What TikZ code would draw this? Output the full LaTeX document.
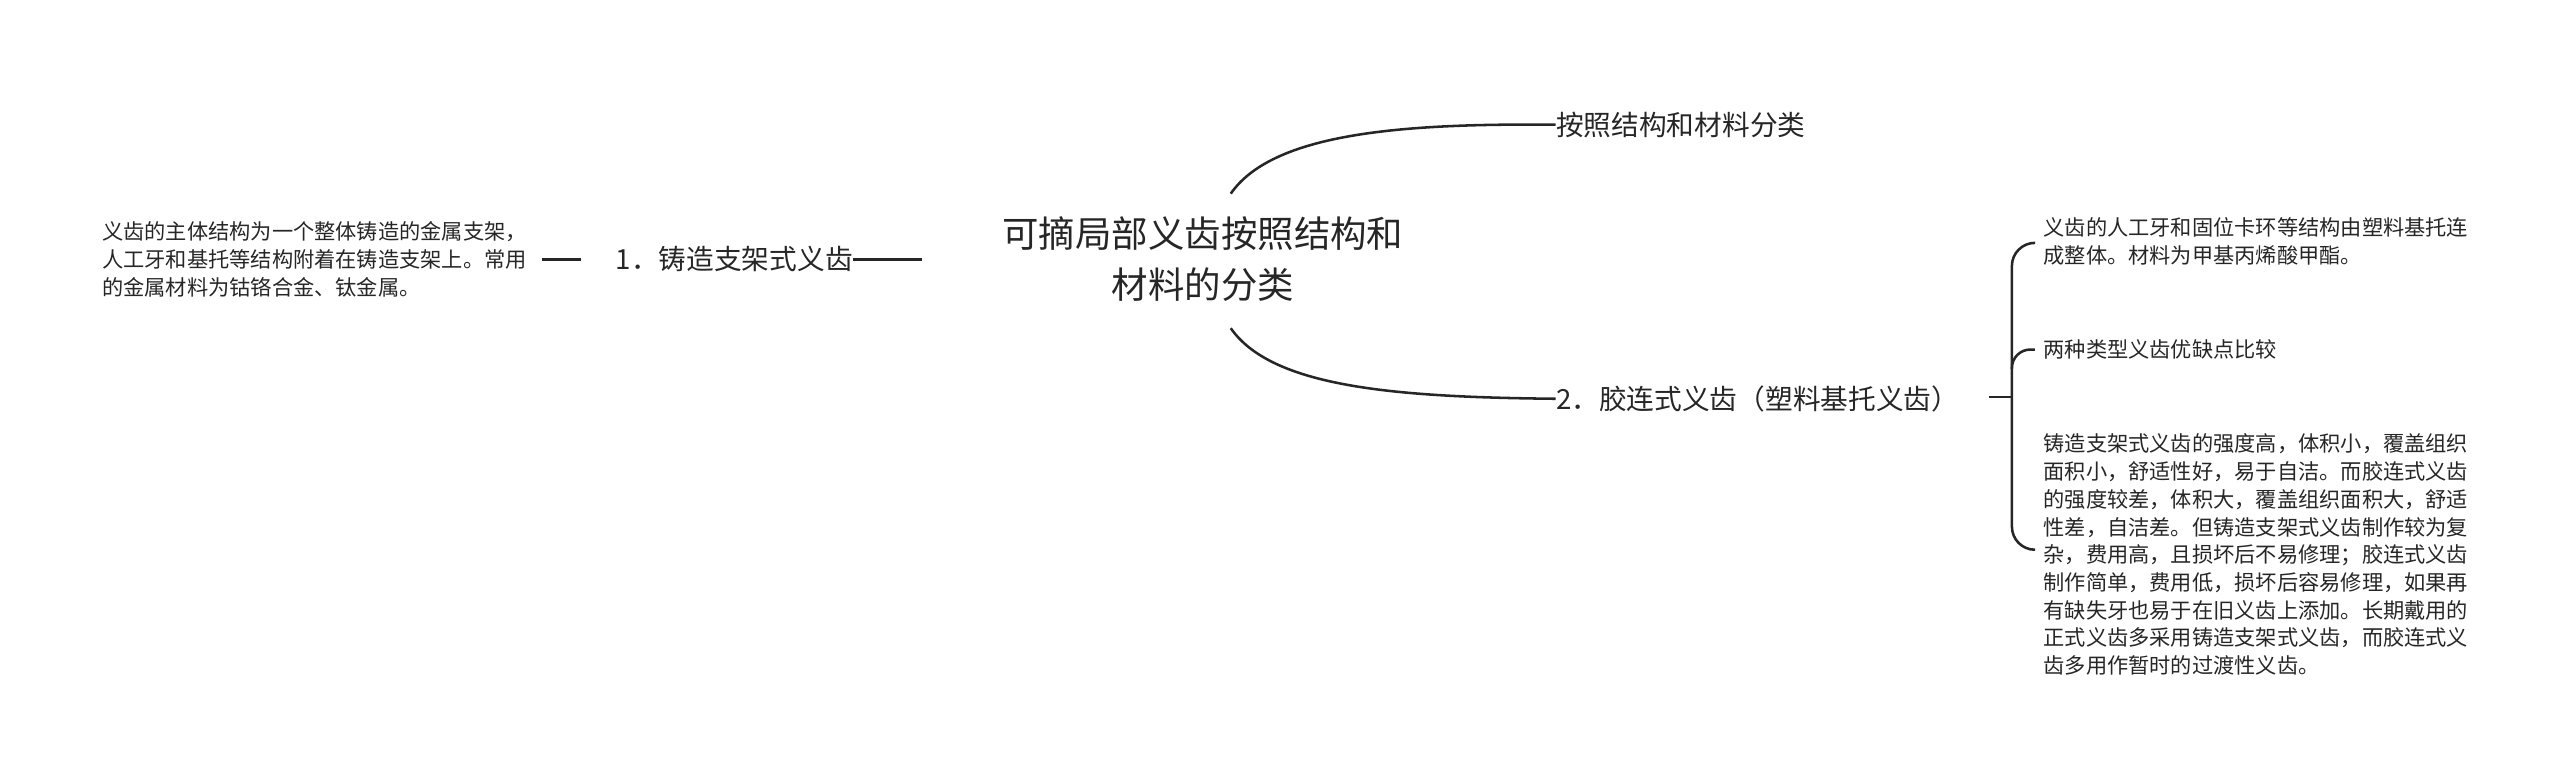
\documentclass[tikz,border=0pt]{standalone}
\usepackage{fontspec}
\setmainfont{Noto Sans CJK SC}
\begin{document}
\begin{tikzpicture}[x=0.025cm,y=-0.025cm,
  line/.style={draw=black!85,line width=1.1pt},
  small/.style={font=\fontsize{9.2pt}{12pt}\selectfont,align=left,anchor=west,inner sep=0pt,text=black!85},
  mid/.style={font=\fontsize{12pt}{15pt}\selectfont,anchor=west,inner sep=0pt,text=black!85},
  title/.style={font=\fontsize{15.8pt}{22pt}\selectfont,align=center,inner sep=0pt,text=black!85}]
\useasboundingbox (0,0) rectangle (1560,473);
\node[title] (root) at (733,158) {可摘局部义齿按照结构和\\材料的分类};
\coordinate (rt) at (750,118);
\coordinate (rb) at (750,200);
\coordinate (rl) at (562,158);
\node[mid] (a) at (948,76) {按照结构和材料分类};
\node[mid] (b) at (948,243) {2．胶连式义齿（塑料基托义齿）};
\node[mid] (c) at (375,158) {1．铸造支架式义齿};
\node[small] (cl) at (62,158) {义齿的主体结构为一个整体铸造的金属支架，\\人工牙和基托等结构附着在铸造支架上。常用\\的金属材料为钴铬合金、钛金属。};
\node[small] (b1) at (1245,147) {义齿的人工牙和固位卡环等结构由塑料基托连\\成整体。材料为甲基丙烯酸甲酯。};
\node[small] (b2) at (1245,213) {两种类型义齿优缺点比较};
\node[small] (b3) at (1245,338) {铸造支架式义齿的强度高，体积小，覆盖组织\\面积小，舒适性好，易于自洁。而胶连式义齿\\的强度较差，体积大，覆盖组织面积大，舒适\\性差，自洁差。但铸造支架式义齿制作较为复\\杂，费用高，且损坏后不易修理；胶连式义齿\\制作简单，费用低，损坏后容易修理，如果再\\有缺失牙也易于在旧义齿上添加。长期戴用的\\正式义齿多采用铸造支架式义齿，而胶连式义\\齿多用作暂时的过渡性义齿。};
% central curves
\draw[line] (rt) .. controls (775,82) and (850,75) .. (a.west);
\draw[line] (rb) .. controls (775,236) and (850,242) .. (b.west);
% left
\draw[line] (rl) -- (c.east) ++(0,0);
\draw[line] (538,158) -- (562,158);
\draw[line] (330,158) -- (354,158);
% right brace
\coordinate (bd1) at (1212,242);
\coordinate (bd2) at (1226,242);
\draw[line] (bd1) -- (bd2);
\draw[line,rounded corners=10pt] (bd2) -- (1226,148) -- (1240,148);
\draw[line,rounded corners=10pt] (bd2) -- (1226,335) -- (1240,335);
\draw[line,rounded corners=8pt] (1226,225) -- (1226,213) -- (1240,213);
\end{tikzpicture}
\end{document}
